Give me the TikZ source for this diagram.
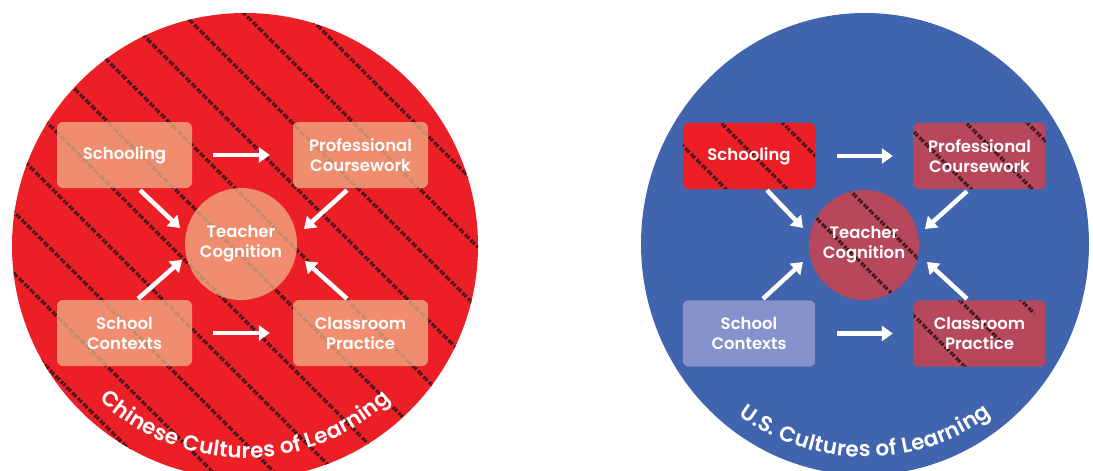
\documentclass[tikz,border=0pt]{standalone}
\usepackage{fontspec}
\setmainfont{Poppins}[BoldFont={Poppins SemiBold}]
\usetikzlibrary{arrows.meta,calc,decorations.text}
\definecolor{cnred}{RGB}{236,30,38}
\definecolor{usblue}{RGB}{65,100,174}
\definecolor{salmon}{RGB}{242,185,140}
\definecolor{mauve}{RGB}{183,72,92}
\definecolor{lav}{RGB}{133,146,204}
\definecolor{stripecol}{RGB}{55,20,25}
\pgfdeclarelayer{bg}\pgfdeclarelayer{mid}\pgfsetlayers{bg,mid,main}
\tikzset{
  lbl/.style={font=\bfseries\fontsize{16.5}{20}\selectfont, text=white, align=center},
  box/.style={lbl, rectangle, rounded corners=6pt, minimum width=135pt, minimum height=66pt, inner sep=0pt},
  lbox/.style={box, fill=salmon, fill opacity=0.72, text opacity=1},
  lcirc/.style={lbl, circle, minimum size=112pt, inner sep=0pt, fill=salmon, fill opacity=0.72, text opacity=1},
  rbox/.style={box, minimum width=132pt},
  rcirc/.style={lbl, circle, minimum size=110pt, inner sep=0pt},
  arr/.style={draw=white, line width=4.5pt, -{Triangle[length=11pt,width=15pt]}},
  stripe/.style={draw=stripecol, line width=3.4pt, dash pattern=on 2.2pt off 0.9pt on 2.2pt off 2.6pt},
  arctext/.style={decorate, decoration={text along path, text align=center,
      text={|\bfseries\fontsize{21.5}{21.5}\selectfont\color{white}\kern0.3pt|#1}}},
}
\newcommand\mystripes{%
  \foreach \k in {-12,...,12}{%
    \draw[stripe] ({320-30.62*\k-500},{28+30.62*\k-500}) -- ({320-30.62*\k+500},{28+30.62*\k+500});}}
\begin{document}
\begin{tikzpicture}[x=1pt,y=-1pt]
\useasboundingbox (0,0) rectangle (1093,471);
\coordinate (LC) at (245,246);
\coordinate (RC) at (865,244);
% ---------- left: Chinese ----------
\begin{pgfonlayer}{bg}
  \fill[white] (0,0) rectangle (1093,471);
  \fill[cnred] (LC) circle [radius=233];
  \begin{scope}
    \clip (LC) circle [radius=233];
    \mystripes
  \end{scope}
  \fill[usblue] (RC) ellipse [x radius=224, y radius=231];
\end{pgfonlayer}

\node[lbox] (S)  at (124.5,155) {Schooling};
\node[lbox] (PC) at (360.5,155) {Professional\\Coursework};
\node[lbox] (SC) at (124.5,333) {School\\Contexts};
\node[lbox] (CP) at (360.5,333) {Classroom\\Practice};
\node[lcirc] (TC) at (241,244) {Teacher\\Cognition};

\draw[arr] ($(S.east)+(21,0)$) -- ($(PC.west)+(-23,0)$);
\draw[arr] ($(SC.east)+(21,0)$) -- ($(CP.west)+(-23,0)$);
\draw[arr] ($(S.south)+(15.5,2)$) -- ($(TC.center)+(-61,-16)$);
\draw[arr] ($(PC.south)+(-13.5,2)$) -- ($(TC.center)+(63,-15)$);
\draw[arr] ($(SC.north)+(13.5,-1)$) -- ($(TC.center)+(-59,16)$);
\draw[arr] ($(CP.north)+(-13.5,-1)$) -- ($(TC.center)+(64,17)$);

\path[arctext={Chinese Cultures of Learning}] ($(LC)+(145:212)$) arc (145:35:212);

% ---------- right: U.S. ----------
\node[rbox] (S2)  at (749,156) {Schooling};
\node[rbox] (PC2) at (979.5,156) {Professional\\Coursework};
\node[rbox] (SC2) at (749,333.5) {School\\Contexts};
\node[rbox] (CP2) at (979.5,333.5) {Classroom\\Practice};
\node[rcirc] (TC2) at (864,245) {Teacher\\Cognition};

\begin{pgfonlayer}{mid}
  \fill[cnred, rounded corners=6pt] (S2.north west) rectangle (S2.south east);
  \fill[mauve, rounded corners=6pt] (PC2.north west) rectangle (PC2.south east);
  \fill[mauve, rounded corners=6pt] (CP2.north west) rectangle (CP2.south east);
  \fill[lav, rounded corners=6pt] (SC2.north west) rectangle (SC2.south east);
  \fill[mauve] (TC2.center) circle [radius=55];
  \begin{scope}
    \clip[rounded corners=6pt] (S2.north west) rectangle (S2.south east)
      (PC2.north west) rectangle (PC2.south east)
      (CP2.north west) rectangle (CP2.south east);
    \mystripes
  \end{scope}
  \begin{scope}
    \clip (TC2.center) circle [radius=55];
    \mystripes
  \end{scope}
\end{pgfonlayer}

\draw[arr] ($(S2.east)+(22,0)$) -- ($(PC2.west)+(-20.5,0)$);
\draw[arr] ($(SC2.east)+(22,0)$) -- ($(CP2.west)+(-20.5,0)$);
\draw[arr] ($(S2.south)+(18,1)$) -- ($(TC2.center)+(-61,-17)$);
\draw[arr] ($(PC2.south)+(-12.5,2)$) -- ($(TC2.center)+(61,-16)$);
\draw[arr] ($(SC2.north)+(14,-1.5)$) -- ($(TC2.center)+(-61,17)$);
\draw[arr] ($(CP2.north)+(-12.5,-1.5)$) -- ($(TC2.center)+(63,17)$);

\path[arctext={U.S. Cultures of Learning}] ($(RC)+(145:213)$) arc (145:35:213);
\end{tikzpicture}
\end{document}
